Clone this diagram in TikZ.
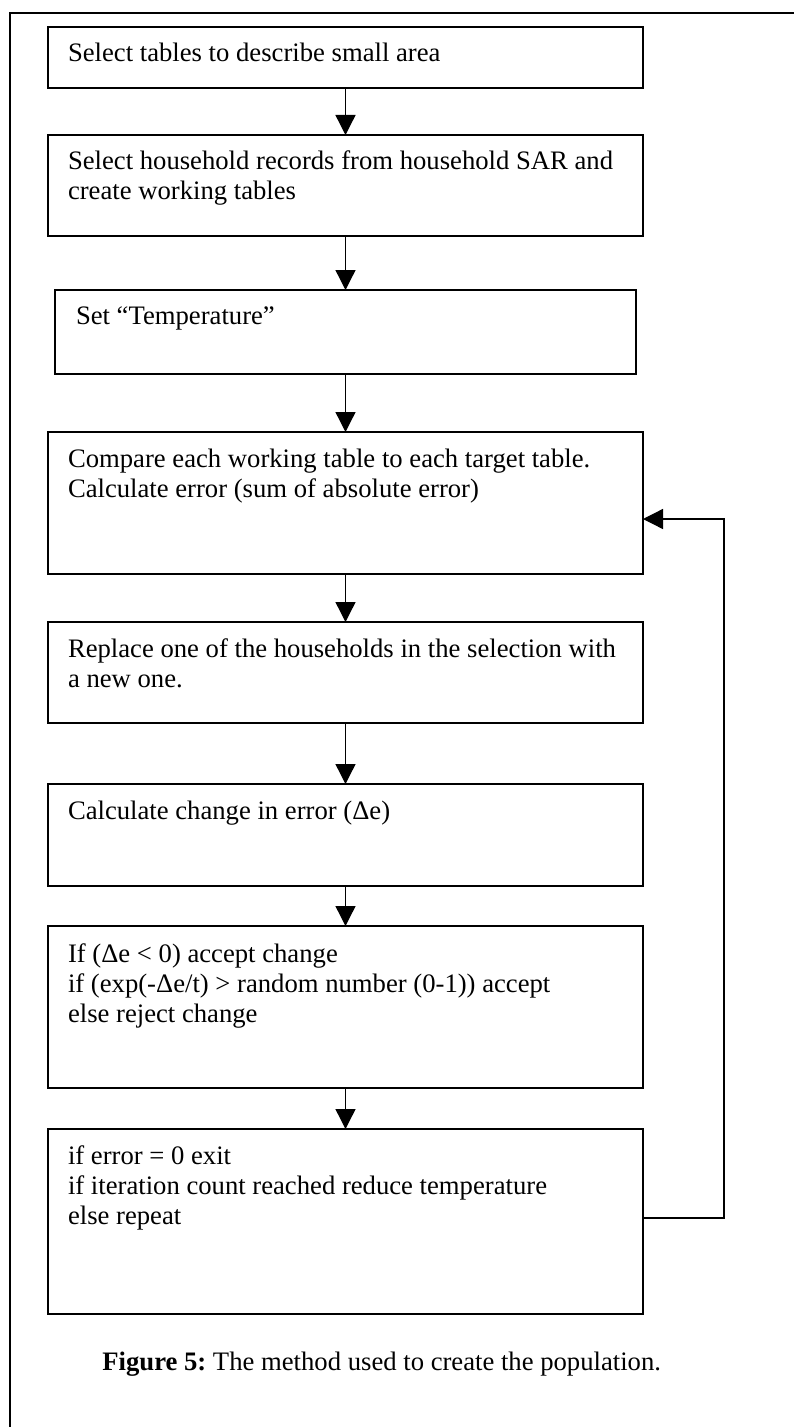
\documentclass[tikz,border=0pt]{standalone}
\usepackage{fontspec}
\setmainfont{Liberation Serif}
\usetikzlibrary{arrows.meta}
\frenchspacing
\begin{document}
\begin{tikzpicture}[x=0.75pt,y=-0.75pt,
  stepbox/.style={draw,line width=1pt,rectangle,inner sep=0pt,outer sep=0pt,anchor=north west},
  boxtext/.style={anchor=north west,inner sep=0pt,outer sep=0pt,align=left,font=\fontsize{20}{22.5}\selectfont},
  flow/.style={line width=1pt,-{Triangle[length=15pt,width=15pt]}}]
\useasboundingbox (0,0) rectangle (794,1427);
% page frame (left and top edges)
\draw[line width=1pt] (10,1427) -- (10,13) -- (794,13);
% process boxes
\node[stepbox,minimum width={595*0.75pt},minimum height={61*0.75pt}]  (b1) at (48,27) {};
\node[stepbox,minimum width={595*0.75pt},minimum height={101*0.75pt}] (b2) at (48,135) {};
\node[stepbox,minimum width={581*0.75pt},minimum height={84*0.75pt}]  (b3) at (55,290) {};
\node[stepbox,minimum width={595*0.75pt},minimum height={142*0.75pt}] (b4) at (48,432) {};
\node[stepbox,minimum width={595*0.75pt},minimum height={101*0.75pt}] (b5) at (48,622) {};
\node[stepbox,minimum width={595*0.75pt},minimum height={102*0.75pt}] (b6) at (48,784) {};
\node[stepbox,minimum width={595*0.75pt},minimum height={162*0.75pt}] (b7) at (48,926) {};
\node[stepbox,minimum width={595*0.75pt},minimum height={185*0.75pt}] (b8) at (48,1129) {};
% box texts
\node[boxtext] (t1) at (68,41)   {\strut Select tables to describe small area};
\node[boxtext] (t2) at (68,149)  {\strut Select household records from household SAR and\\create working tables};
\node[boxtext] (t3) at (76,303)  {\strut Set “Temperature”};
\node[boxtext] (t4) at (68,446)  {\strut Compare each working table to each target table.\\Calculate error (sum of absolute error)};
\node[boxtext] (t5) at (68,636)  {\strut Replace one of the households in the selection with\\a new one.};
\node[boxtext] (t6) at (68,798)  {\strut Calculate change in error (Δe)};
\node[boxtext] (t7) at (68,941)  {\strut If (Δe < 0) accept change\\if (exp(-Δe/t) > random number (0-1)) accept\\else reject change};
\node[boxtext] (t8) at (68,1143) {\strut if error = 0 exit\\if iteration count reached reduce temperature\\else repeat};
% caption
\node[boxtext,anchor=north east] (cap) at (661,1349) {\strut\textbf{Figure 5:} The method used to create the population.};
% flow arrows
\draw[flow] (b1.south) -- (b2.north);
\draw[flow] (b2.south) -- (b3.north);
\draw[flow] (b3.south) -- (b4.north);
\draw[flow] (b4.south) -- (b5.north);
\draw[flow] (b5.south) -- (b6.north);
\draw[flow] (b6.south) -- (b7.north);
\draw[flow] (b7.south) -- (b8.north);
% feedback loop
\coordinate (r1) at (724,1218);
\coordinate (r2) at (724,519);
\draw[flow] (b8.east |- r1) -- (r1) -- (r2) -- (b4.east |- r2);
\end{tikzpicture}
\end{document}
